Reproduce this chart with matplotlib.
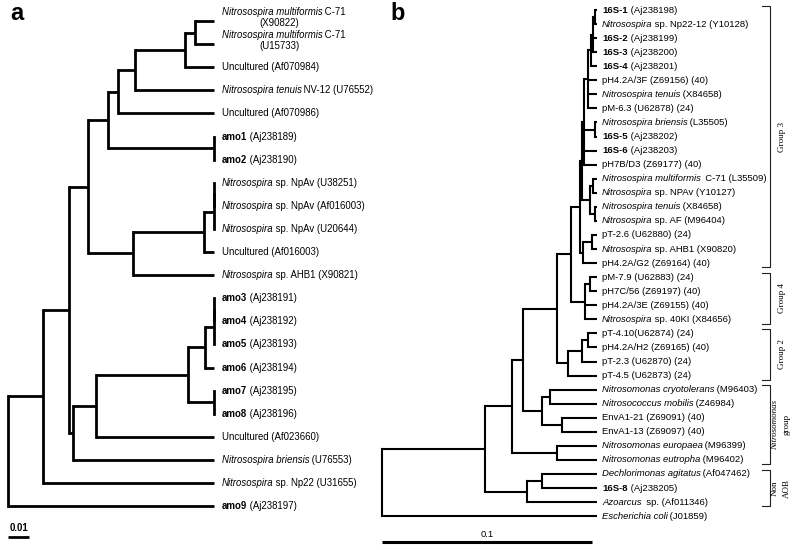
import matplotlib
matplotlib.use("Agg")
import matplotlib.pyplot as plt
from matplotlib.transforms import Bbox

plt.rcParams['font.family'] = ['Liberation Sans', 'DejaVu Sans']

# ---------------- panel a : amoA tree ----------------
# leaf labels: (style of first part, first part, rest); i = italic, b = bold
labels_a = [
    ('i', 'Nitrosospira multiformis', ' C-71'),
    ('i', 'Nitrosospira multiformis', ' C-71'),
    ('', '', 'Uncultured (Af070984)'),
    ('i', 'Nitrosospira tenuis', ' NV-12 (U76552)'),
    ('', '', 'Uncultured (Af070986)'),
    ('b', 'amo1', ' (Aj238189)'),
    ('b', 'amo2', ' (Aj238190)'),
    ('i', 'Nitrosospira', ' sp. NpAv (U38251)'),
    ('i', 'Nitrosospira', ' sp. NpAv (Af016003)'),
    ('i', 'Nitrosospira', ' sp. NpAv (U20644)'),
    ('', '', 'Uncultured (Af016003)'),
    ('i', 'Nitrosospira', ' sp. AHB1 (X90821)'),
    ('b', 'amo3', ' (Aj238191)'),
    ('b', 'amo4', ' (Aj238192)'),
    ('b', 'amo5', ' (Aj238193)'),
    ('b', 'amo6', ' (Aj238194)'),
    ('b', 'amo7', ' (Aj238195)'),
    ('b', 'amo8', ' (Aj238196)'),
    ('', '', 'Uncultured (Af023660)'),
    ('i', 'Nitrosospira briensis', ' (U76553)'),
    ('i', 'Nitrosospira', ' sp. Np22 (U31655)'),
    ('b', 'amo9', ' (Aj238197)'),
]
second_line_a = {0: '(X90822)', 1: '(U15733)'}

# internal nodes: (distance from root, children); ints are leaf indices
tip_a = 0.0981
tree_a = (0.0, [
    (0.0167, [
        (0.0290, [
            (0.0381, [
                (0.0476, [
                    (0.0524, [
                        (0.0605, [
                            (0.0843, [(0.0890, [0, 1]), 2]),
                            3]),
                        4]),
                    (tip_a, [5, 6])]),
                (0.0595, [
                    (0.0933, [(tip_a, [(tip_a, [7, 8]), 9]), 10]),
                    11])]),
            (0.0310, [
                (0.0419, [
                    (0.0857, [
                        (0.0938, [(tip_a, [(tip_a, [12, 13]), 14]), 15]),
                        (tip_a, [16, 17])]),
                    18]),
                19])]),
        20]),
    21])
scale_a = 0.01

# ---------------- panel b : 16S rDNA tree ----------------
labels_b = [
    ('b', '16S-1', ' (Aj238198)'),
    ('i', 'Nitrosospira', ' sp. Np22-12 (Y10128)'),
    ('b', '16S-2', ' (Aj238199)'),
    ('b', '16S-3', ' (Aj238200)'),
    ('b', '16S-4', ' (Aj238201)'),
    ('', '', 'pH4.2A/3F (Z69156) (40)'),
    ('i', 'Nitrosospira tenuis', ' (X84658)'),
    ('', '', 'pM-6.3 (U62878) (24)'),
    ('i', 'Nitrosospira briensis', ' (L35505)'),
    ('b', '16S-5', ' (Aj238202)'),
    ('b', '16S-6', ' (Aj238203)'),
    ('', '', 'pH7B/D3 (Z69177) (40)'),
    ('i', 'Nitrosospira multiformis', '  C-71 (L35509)'),
    ('i', 'Nitrosospira', ' sp. NPAv (Y10127)'),
    ('i', 'Nitrosospira tenuis', ' (X84658)'),
    ('i', 'Nitrosospira', ' sp. AF (M96404)'),
    ('', '', 'pT-2.6 (U62880) (24)'),
    ('i', 'Nitrosospira', ' sp. AHB1 (X90820)'),
    ('', '', 'pH4.2A/G2 (Z69164) (40)'),
    ('', '', 'pM-7.9 (U62883) (24)'),
    ('', '', 'pH7C/56 (Z69197) (40)'),
    ('', '', 'pH4.2A/3E (Z69155) (40)'),
    ('i', 'Nitrosospira', ' sp. 40KI (X84656)'),
    ('', '', 'pT-4.10(U62874) (24)'),
    ('', '', 'pH4.2A/H2 (Z69165) (40)'),
    ('', '', 'pT-2.3 (U62870) (24)'),
    ('', '', 'pT-4.5 (U62873) (24)'),
    ('i', 'Nitrosomonas cryotolerans', ' (M96403)'),
    ('i', 'Nitrosococcus mobilis', ' (Z46984)'),
    ('', '', 'EnvA1-21 (Z69091) (40)'),
    ('', '', 'EnvA1-13 (Z69097) (40)'),
    ('i', 'Nitrosomonas europaea', ' (M96399)'),
    ('i', 'Nitrosomonas eutropha', ' (M96402)'),
    ('i', 'Dechlorimonas agitatus', ' (Af047462)'),
    ('b', '16S-8', ' (Aj238205)'),
    ('i', 'Azoarcus', '  sp. (Af011346)'),
    ('i', 'Escherichia coli', ' (J01859)'),
]

tip_b = 0.1024
group3 = (0.0943, [
    (0.0952, [
        (0.0962, [
            (0.0981, [
                (0.0995, [(0.1005, [(0.1014, [0, 1]), 2, 3]), 4]),
                5, 6, 7]),
            (0.1014, [8, 9]),
            10, 11]),
        (0.0990, [(0.1005, [12, 13]), (0.1014, [14, 15])])]),
    (0.0957, [(0.1000, [16, 17]), 18])])
group4 = (0.0967, [(0.0990, [19, 20]), 21, 22])
group2 = (0.0886, [(0.0952, [(0.0981, [23, 24]), 25]), 26])
nitrosomonas = (0.0762, [(0.0800, [27, 28]), (0.0857, [29, 30])])
europaea = (0.0833, [31, 32])
non_aob = (0.0690, [(0.0762, [33, 34]), 35])
tree_b = (0.0, [
    (0.0490, [
        (0.0619, [
            (0.0671, [
                (0.0833, [(0.0900, [group3, group4]), group2]),
                nitrosomonas]),
            europaea]),
        non_aob]),
    36])
scale_b = 0.1

group_names = [['Group 3'], ['Group 4'], ['Group 2'],
               ['Nitrosomonas', 'group'], ['Non', 'AOB']]
group_styles = [['normal'], ['normal'], ['normal'],
                ['italic', 'normal'], ['normal', 'normal']]
group_rows = [(0, 18), (19, 22), (23, 26), (27, 32), (33, 35)]

# ---------------- drawing ----------------
PX = 2100  # pixels per substitution unit, same in both panels
fig = plt.figure(figsize=(8, 5.5), dpi=100)

ax_a = fig.add_axes([0, 0, 370 / 800, 1])
ax_a.set_xlim(-8 / PX, 362 / PX)
ax_a.set_ylim((550 - 21) / 23.1, -21 / 23.1)

ax_b = fig.add_axes([370 / 800, 0, 430 / 800, 1])
ax_b.set_xlim(-12 / PX, 418 / PX)
ax_b.set_ylim((550 - 10) / 14.06, -10 / 14.06)

for ax in (ax_a, ax_b):
    ax.axis('off')


def draw_tree(ax, node, tip, lw):
    if isinstance(node, int):
        return tip, node
    depth, kids = node
    pts = [draw_tree(ax, k, tip, lw) for k in kids]
    ys = [p[1] for p in pts]
    ax.plot([depth, depth], [ys[0], ys[-1]], color='k', lw=lw,
            solid_capstyle='projecting', clip_on=False)
    for cx, cy in pts:
        ax.plot([depth, cx], [cy, cy], color='k', lw=lw,
                solid_capstyle='butt', clip_on=False)
    return depth, (ys[0] + ys[-1]) / 2


def draw_label(ax, x, y, lab, size, dx):
    style, first, rest = lab
    kw = dict(fontsize=size, ha='left', annotation_clip=False)
    parts = []
    if first:
        t = ax.annotate(first, xy=(x, y), xytext=(dx, 0),
                        textcoords='offset points', va='center',
                        fontstyle='italic' if style == 'i' else 'normal',
                        fontweight='bold' if style == 'b' else 'normal', **kw)
        parts.append(t)
        # italic boxes carry a little slant overhang, pull the rest back
        back = -0.3 if style == 'i' else 0
        parts.append(ax.annotate(rest, xy=(1, 0), xycoords=t,
                                 xytext=(back, 0), textcoords='offset points',
                                 va='bottom', **kw))
    else:
        parts.append(ax.annotate(rest, xy=(x, y), xytext=(dx, 0),
                                 textcoords='offset points', va='center', **kw))
    return parts


def union_of(arts):
    return lambda r: Bbox.union([a.get_window_extent(r) for a in arts])


# panel a
draw_tree(ax_a, tree_a, tip_a, 2.0)
for i, lab in enumerate(labels_a):
    if i in second_line_a:
        parts = draw_label(ax_a, tip_a, i - 0.38, lab, 6.9, 5.5)
        ax_a.annotate(second_line_a[i], xy=(0.5, 0), xycoords=union_of(parts),
                      xytext=(-3, -0.6), textcoords='offset points',
                      ha='center', va='top', fontsize=6.9)
    else:
        draw_label(ax_a, tip_a, i, lab, 6.9, 5.5)

ax_a.plot([0, scale_a], [22.34, 22.34], color='k', lw=2.0,
          solid_capstyle='butt', clip_on=False)
ax_a.text(scale_a / 2, 21.95, '0.01', ha='center', va='center',
          fontsize=6.9, fontweight='bold')

# panel b
draw_tree(ax_b, tree_b, tip_b, 1.5)
for i, lab in enumerate(labels_b):
    draw_label(ax_b, tip_b, i, lab, 6.8, 3.6)

ax_b.plot([0, scale_b], [37.85, 37.85], color='k', lw=2.2,
          solid_capstyle='butt', clip_on=False)
ax_b.text(scale_b / 2, 37.28, '0.1', ha='center', va='center', fontsize=6.8)

# group brackets
xb = (770 - 382) / PX
xt = (762 - 382) / PX
for names, styles, (r0, r1) in zip(group_names, group_styles, group_rows):
    y0, y1 = r0 - 0.3, r1 + 0.3
    ax_b.plot([xt, xb, xb, xt], [y0, y0, y1, y1], color='#222', lw=0.8,
              clip_on=False)
    if len(names) == 1:
        xs = [(782 - 382) / PX]
    else:
        xs = [(775 - 382) / PX, (787 - 382) / PX]
    for x, name, st in zip(xs, names, styles):
        ax_b.text(x, (y0 + y1) / 2, name, rotation=90, ha='center',
                  va='center', fontsize=6.5, fontstyle=st,
                  family=['Liberation Serif', 'DejaVu Serif'])

fig.text(10 / 800, 1 - 20 / 550, 'a', fontsize=17, fontweight='bold',
         va='baseline')
fig.text(390 / 800, 1 - 20 / 550, 'b', fontsize=17, fontweight='bold',
         va='baseline')

fig.savefig('out.png', dpi=100)
